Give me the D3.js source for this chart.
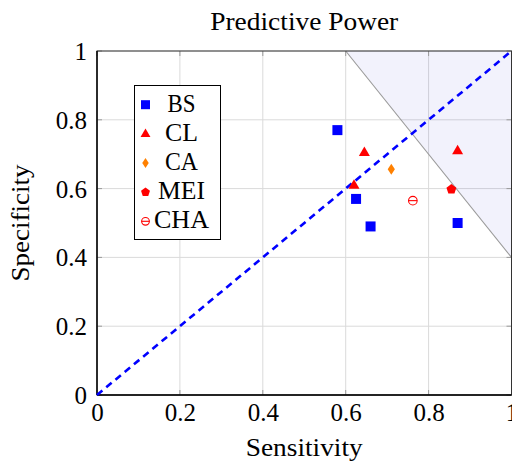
<!DOCTYPE html>
<html>
<head>
<meta charset="utf-8">
<script src="https://cdn.jsdelivr.net/npm/d3@7"></script>
<style>
  body { margin: 0; background: #fff; }
  svg text { font-family: "Liberation Serif", "DejaVu Serif", serif; fill: #000; }
</style>
</head>
<body>
<svg id="chart" width="512" height="463"></svg>
<script>
// Series: sensitivity (x) and specificity (y) per method
const seriesNames = ["BS", "CL", "CA", "MEI", "CHA"];
const bsSens  = [0.58, 0.625, 0.66, 0.87];
const bsSpec  = [0.77, 0.57, 0.49, 0.50];
const clSens  = [0.645, 0.62, 0.87];
const clSpec  = [0.705, 0.61, 0.71];
const caSens  = [0.71];
const caSpec  = [0.656];
const meiSens = [0.855];
const meiSpec = [0.598];
const chaSens = [0.762];
const chaSpec = [0.565];

// Shaded region above the line from (0.6, 1) to (1, 0.4)
const regionX = [0.6, 1, 1];
const regionY = [1, 0.4, 1];
// Reference diagonal
const diagX = [0, 1];
const diagY = [0, 1];

const xTicks = [0, 0.2, 0.4, 0.6, 0.8, 1];
const yTicks = [0, 0.2, 0.4, 0.6, 0.8, 1];

const svg = d3.select("#chart");
const pLeft = 97, pRight = 511.5, pTop = 51, pBottom = 395;
const x = d3.scaleLinear().domain([0, 1]).range([pLeft, pRight]);
const y = d3.scaleLinear().domain([0, 1]).range([pBottom, pTop]);
const fontSize = 25;

// Grid
svg.append("g").selectAll("line").data(xTicks).join("line")
  .attr("x1", d => x(d)).attr("x2", d => x(d)).attr("y1", pTop).attr("y2", pBottom)
  .attr("stroke", "#dadada").attr("stroke-width", 1);
svg.append("g").selectAll("line").data(yTicks).join("line")
  .attr("y1", d => y(d)).attr("y2", d => y(d)).attr("x1", pLeft).attr("x2", pRight)
  .attr("stroke", "#dadada").attr("stroke-width", 1);

// Shaded region (translucent so the grid still shows through)
svg.append("path")
  .attr("d", d3.line().x(d => x(d[0])).y(d => y(d[1]))(regionX.map((v, i) => [v, regionY[i]])) + "Z")
  .attr("fill", "#0000cc").attr("fill-opacity", 0.05).attr("stroke", "none");
svg.append("line")
  .attr("x1", x(regionX[0])).attr("y1", y(regionY[0]))
  .attr("x2", x(regionX[1])).attr("y2", y(regionY[1]))
  .attr("stroke", "#999").attr("stroke-width", 1.1);

// Axes (labels outside the frame)
const xAxis = d3.axisBottom(x).tickValues(xTicks).tickFormat(d3.format("~g")).tickSize(0).tickPadding(0);
const yAxis = d3.axisLeft(y).tickValues(yTicks).tickFormat(d3.format("~g")).tickSize(0).tickPadding(10);
const gx = svg.append("g").attr("transform", `translate(0,${pBottom})`).call(xAxis);
const gy = svg.append("g").attr("transform", `translate(${pLeft},0)`).call(yAxis);
[gx, gy].forEach(g => {
  g.select(".domain").remove();
  g.selectAll("text").style("font-family", '"Liberation Serif", serif').style("font-size", fontSize + "px").attr("fill", "#000");
});
gx.selectAll("text").attr("y", 26).attr("dy", null);
gy.selectAll("text").attr("dy", "0.34em");

// Inner tick marks
const tickCol = "#9a9a9a";
svg.append("g").selectAll("line").data(xTicks).join("line")
  .attr("x1", d => x(d)).attr("x2", d => x(d)).attr("y1", pBottom).attr("y2", pBottom - 5)
  .attr("stroke", tickCol);
svg.append("g").selectAll("line").data(xTicks).join("line")
  .attr("x1", d => x(d)).attr("x2", d => x(d)).attr("y1", pTop).attr("y2", pTop + 5)
  .attr("stroke", tickCol);
svg.append("g").selectAll("line").data(yTicks).join("line")
  .attr("y1", d => y(d)).attr("y2", d => y(d)).attr("x1", pLeft).attr("x2", pLeft + 5)
  .attr("stroke", tickCol);
svg.append("g").selectAll("line").data(yTicks).join("line")
  .attr("y1", d => y(d)).attr("y2", d => y(d)).attr("x1", pRight).attr("x2", pRight - 5)
  .attr("stroke", tickCol);

// Frame
svg.append("rect").attr("x", pLeft).attr("y", pTop).attr("width", pRight - pLeft).attr("height", pBottom - pTop)
  .attr("fill", "none").attr("stroke", "#333").attr("stroke-width", 1);
svg.append("line").attr("x1", pLeft).attr("x2", pRight).attr("y1", pBottom).attr("y2", pBottom).attr("stroke", "#000").attr("stroke-width", 1.4);
svg.append("line").attr("x1", pLeft).attr("x2", pLeft).attr("y1", pTop).attr("y2", pBottom).attr("stroke", "#000").attr("stroke-width", 1.4);

// Diagonal
svg.append("path")
  .attr("d", d3.line().x(d => x(d[0])).y(d => y(d[1]))(diagX.map((v, i) => [v, diagY[i]])))
  .attr("stroke", "#0000ff").attr("stroke-width", 2.6).attr("stroke-dasharray", "7,5").attr("fill", "none");

// Marker shapes
function drawMarker(g, name, cx, cy, s) {
  s = s || 1;
  if (name === "BS") {
    g.append("rect").attr("x", cx - 5 * s).attr("y", cy - 5 * s).attr("width", 10 * s).attr("height", 10 * s).attr("fill", "#0000ff");
  } else if (name === "CL") {
    g.append("path").attr("d", `M${cx},${cy - 6 * s}L${cx + 5.5 * s},${cy + 3.5 * s}L${cx - 5.5 * s},${cy + 3.5 * s}Z`).attr("fill", "#ff0000");
  } else if (name === "CA") {
    g.append("path").attr("d", `M${cx},${cy - 5.5 * s}L${cx + 3.6 * s},${cy}L${cx},${cy + 5.5 * s}L${cx - 3.6 * s},${cy}Z`).attr("fill", "#ff8000");
  } else if (name === "MEI") {
    const r = 5.2 * s;
    const pts = d3.range(5).map(i => {
      const a = -Math.PI / 2 + i * 2 * Math.PI / 5;
      return [cx + r * Math.cos(a), cy + r * Math.sin(a)];
    });
    g.append("path").attr("d", "M" + pts.join("L") + "Z").attr("fill", "#ff0000");
  } else if (name === "CHA") {
    g.append("circle").attr("cx", cx).attr("cy", cy).attr("r", 4.3 * s).attr("fill", "none").attr("stroke", "#ff0000").attr("stroke-width", 1.1);
    g.append("line").attr("x1", cx - 4.3 * s).attr("x2", cx + 4.3 * s).attr("y1", cy).attr("y2", cy).attr("stroke", "#ff0000").attr("stroke-width", 1.1);
  }
}

const allSeries = [
  ["BS", bsSens, bsSpec],
  ["CL", clSens, clSpec],
  ["CA", caSens, caSpec],
  ["MEI", meiSens, meiSpec],
  ["CHA", chaSens, chaSpec]
];
const gm = svg.append("g");
allSeries.forEach(([name, xs, ys]) => {
  xs.forEach((v, i) => drawMarker(gm, name, x(v), y(ys[i])));
});

// Legend
const legendWidths = [28, 33, 33, 47, 55];
const lg = svg.append("g");
lg.append("rect").attr("x", 134.5).attr("y", 85.5).attr("width", 86).attr("height", 154)
  .attr("fill", "#fff").attr("stroke", "#000").attr("stroke-width", 1);
seriesNames.forEach((name, i) => {
  const base = 111.7 + i * 29.15;
  drawMarker(lg, name, 145.5, base - 7, 0.9);
  lg.append("text").attr("x", 181.5).attr("y", base).attr("text-anchor", "middle")
    .attr("textLength", legendWidths[i]).attr("lengthAdjust", "spacingAndGlyphs")
    .style("font-size", fontSize + "px").text(name);
});

// Title and axis labels
svg.append("text").attr("x", (pLeft + pRight) / 2).attr("y", 30).attr("text-anchor", "middle")
  .attr("textLength", 188).attr("lengthAdjust", "spacingAndGlyphs")
  .style("font-size", fontSize + "px").text("Predictive Power");
svg.append("text").attr("x", (pLeft + pRight) / 2).attr("y", 456).attr("text-anchor", "middle")
  .attr("textLength", 117).attr("lengthAdjust", "spacingAndGlyphs")
  .style("font-size", fontSize + "px").text("Sensitivity");
svg.append("text").attr("transform", `translate(28.5,${(pTop + pBottom) / 2}) rotate(-90)`).attr("text-anchor", "middle")
  .attr("textLength", 117).attr("lengthAdjust", "spacingAndGlyphs")
  .style("font-size", fontSize + "px").text("Specificity");
</script>
</body>
</html>
